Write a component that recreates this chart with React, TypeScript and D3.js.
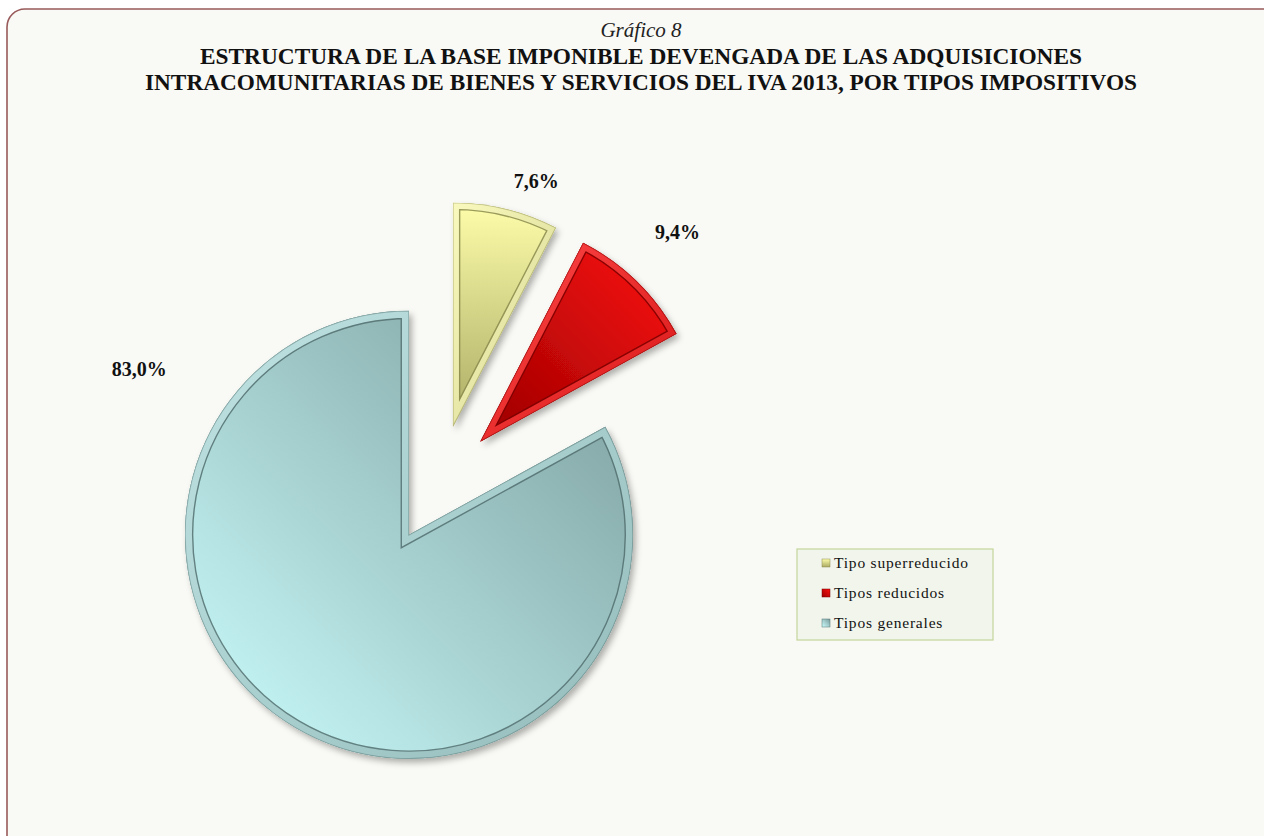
import React, { useEffect, useRef } from 'react';
import * as d3 from 'd3';

const categories = ['Tipo superreducido', 'Tipos reducidos', 'Tipos generales'];
const shares = [7.6, 9.4, 83.0];
const shareLabels = ['7,6%', '9,4%', '83,0%'];
const chartNumber = 'Gráfico 8';
const titleLines = [
  'ESTRUCTURA DE LA BASE IMPONIBLE DEVENGADA DE LAS ADQUISICIONES',
  'INTRACOMUNITARIAS DE BIENES Y SERVICIOS DEL IVA 2013, POR TIPOS IMPOSITIVOS',
];

const W = 1264;
const H = 836;
const cx = 439;
const cy = 484;
const radius = 224;
const explode = 59;

// look of each slice: fill gradient (x1,y1,x2,y2), bevel rim and its inner line
const looks = [
  { from: '#fdfdaa', to: '#aaaa64', dir: [0, 0, 0, 1], rim: '#f7f7ae', line: '#8a8a4e', bevel: 6 },
  { from: '#ff1010', to: '#9a0000', dir: [1, 0, 0, 1], rim: '#ff1c1c', line: '#7a0000', bevel: 6 },
  { from: '#cdffff', to: '#7a9a9a', dir: [0, 1, 1, 0], rim: '#b0dcdc', line: '#52706f', bevel: 7 },
];
// label spot: angle in degrees clockwise from 12 o'clock, distance from pie centre
const labelSpots = [[17.8, 318], [43.4, 347], [291, 321]];

const App = () => {
  const svgRef = useRef<SVGSVGElement>(null);

  useEffect(() => {
    if (!svgRef.current) return;
    const svg = d3.select(svgRef.current);
    svg.selectAll('*').remove();
    svg.attr('width', W).attr('height', H).attr('viewBox', [0, 0, W, H]);

    const defs = svg.append('defs');
    const shadow = defs.append('filter').attr('id', 'shadow')
      .attr('x', '-20%').attr('y', '-20%').attr('width', '140%').attr('height', '140%');
    shadow.append('feDropShadow')
      .attr('dx', 3).attr('dy', 4).attr('stdDeviation', 3)
      .attr('flood-color', '#000').attr('flood-opacity', 0.3);

    looks.forEach((lk, i) => {
      const g = defs.append('linearGradient').attr('id', `grad-${i}`)
        .attr('x1', lk.dir[0]).attr('y1', lk.dir[1]).attr('x2', lk.dir[2]).attr('y2', lk.dir[3]);
      g.append('stop').attr('offset', 0).attr('stop-color', lk.from);
      g.append('stop').attr('offset', 1).attr('stop-color', lk.to);

      const r = defs.append('linearGradient').attr('id', `rim-${i}`)
        .attr('x1', 0).attr('y1', 0).attr('x2', 1).attr('y2', 1);
      r.append('stop').attr('offset', 0).attr('stop-color', d3.interpolateRgb(lk.rim, '#ffffff')(0.2));
      r.append('stop').attr('offset', 1).attr('stop-color', d3.interpolateRgb(lk.rim, lk.line)(0.3));
    });

    // page frame
    svg.append('rect').attr('width', W).attr('height', H).attr('fill', '#ffffff');
    svg.append('rect')
      .attr('x', 7).attr('y', 9).attr('width', W + 40).attr('height', H + 40).attr('rx', 18)
      .attr('fill', '#f9f9f5').attr('stroke', '#985a5a').attr('stroke-width', 1.6);

    // titles
    svg.append('text')
      .attr('x', 641).attr('y', 37)
      .attr('text-anchor', 'middle')
      .attr('font-family', '"Liberation Serif", serif')
      .attr('font-style', 'italic')
      .attr('font-size', 21)
      .attr('fill', '#222')
      .text(chartNumber);

    const titleWidths = [882, 992];
    svg.append('g').selectAll('text')
      .data(titleLines)
      .join('text')
        .attr('x', 641)
        .attr('y', (d, i) => 64 + i * 26)
        .attr('text-anchor', 'middle')
        .attr('font-family', '"Liberation Serif", serif')
        .attr('font-weight', 'bold')
        .attr('font-size', 24)
        .attr('fill', '#111')
        .attr('textLength', (d, i) => titleWidths[i])
        .attr('lengthAdjust', 'spacingAndGlyphs')
        .text(d => d);

    // pie
    const pie = d3.pie<number>().sort(null).value(d => d);
    const arcs = pie(shares);
    const arc = d3.arc<d3.PieArcDatum<number>>().innerRadius(0).outerRadius(radius);

    arcs.forEach((a, i) => {
      defs.append('clipPath').attr('id', `clip-${i}`)
        .append('path').attr('d', arc(a));
    });

    const slices = svg.append('g').attr('class', 'slices')
      .selectAll('g')
      .data(arcs)
      .join('g')
        .attr('transform', d => {
          const mid = (d.startAngle + d.endAngle) / 2;
          return `translate(${cx + explode * Math.sin(mid)},${cy - explode * Math.cos(mid)})`;
        });

    slices.append('path')
      .attr('d', arc)
      .attr('fill', (d, i) => `url(#grad-${i})`)
      .attr('filter', 'url(#shadow)');

    const bevel = slices.append('g').attr('clip-path', (d, i) => `url(#clip-${i})`);
    bevel.append('path')
      .attr('d', arc)
      .attr('fill', 'none')
      .attr('stroke', (d, i) => looks[i].line)
      .attr('stroke-opacity', 0.85)
      .attr('stroke-width', (d, i) => 2 * (looks[i].bevel + 1.4))
      .attr('stroke-linejoin', 'miter')
      .attr('stroke-miterlimit', 20);
    bevel.append('path')
      .attr('d', arc)
      .attr('fill', 'none')
      .attr('stroke', (d, i) => `url(#rim-${i})`)
      .attr('stroke-width', (d, i) => 2 * looks[i].bevel)
      .attr('stroke-linejoin', 'miter')
      .attr('stroke-miterlimit', 20);
    bevel.append('path')
      .attr('d', arc)
      .attr('fill', 'none')
      .attr('stroke', (d, i) => looks[i].line)
      .attr('stroke-opacity', 0.45)
      .attr('stroke-width', 1.4)
      .attr('stroke-linejoin', 'miter')
      .attr('stroke-miterlimit', 20);

    // data labels
    svg.append('g').selectAll('text')
      .data(shareLabels)
      .join('text')
        .attr('x', (d, i) => cx + labelSpots[i][1] * Math.sin(labelSpots[i][0] * Math.PI / 180))
        .attr('y', (d, i) => cy - labelSpots[i][1] * Math.cos(labelSpots[i][0] * Math.PI / 180))
        .attr('dy', '0.35em')
        .attr('text-anchor', 'middle')
        .attr('font-family', '"Liberation Serif", serif')
        .attr('font-weight', 'bold')
        .attr('font-size', 20)
        .attr('fill', '#111')
        .text(d => d);

    // legend
    const legend = svg.append('g').attr('transform', 'translate(797,549)');
    legend.append('rect')
      .attr('width', 196).attr('height', 91)
      .attr('fill', '#f2f5ec').attr('stroke', '#c3d69b').attr('stroke-width', 1.2);
    const items = legend.selectAll('g')
      .data(categories)
      .join('g')
        .attr('transform', (d, i) => `translate(25,${14 + i * 30})`);
    items.append('rect')
      .attr('width', 8).attr('height', 8).attr('y', -4)
      .attr('fill', (d, i) => `url(#grad-${i})`)
      .attr('stroke', (d, i) => looks[i].line).attr('stroke-width', 0.5);
    items.append('text')
      .attr('x', 12)
      .attr('dy', '0.35em')
      .attr('font-family', '"Liberation Serif", serif')
      .attr('font-size', 15.5)
      .attr('letter-spacing', 0.8)
      .attr('fill', '#111')
      .text(d => d);
  }, []);

  return (
    <div style={{ position: 'absolute', left: 0, top: 0, width: W, height: H }}>
      <svg ref={svgRef} style={{ display: 'block' }}></svg>
    </div>
  );
};

export default App;
